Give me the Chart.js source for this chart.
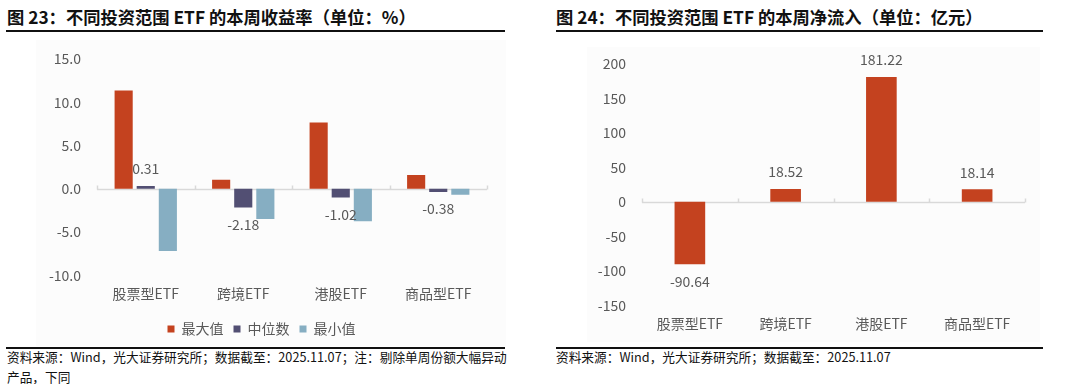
<!DOCTYPE html>
<html>
<head>
<meta charset="utf-8">
<script src="https://cdn.jsdelivr.net/npm/chart.js@4.4.1/dist/chart.umd.min.js"></script>
<style>
  body { margin: 0; width: 1080px; height: 384px; background: #fff; position: relative; overflow: hidden;
         font-family: "Noto Sans CJK SC", "Noto Sans", sans-serif; }
  .title { position: absolute; top: 4px; font-size: 17.3px; font-weight: bold; color: #111; white-space: nowrap; }
  .rule { position: absolute; height: 2px; background: #111; }
  .box { position: absolute; background: #fcfcfc; }
  .box canvas { display: block; }
  .src { position: absolute; font-size: 12.7px; color: #111; line-height: 20px; white-space: nowrap; }
</style>
</head>
<body>
<div class="title" style="left:7px">图 23：不同投资范围 ETF 的本周收益率（单位：%）</div>
<div class="rule" style="left:6px;top:30px;width:499px"></div>
<div class="box" style="left:36px;top:40px;width:470px;height:306px"><canvas id="retChart" width="470" height="306"></canvas></div>
<div class="rule" style="left:6px;top:347px;width:499px"></div>
<div class="src" style="left:7px;top:347px">资料来源：Wind，光大证券研究所；数据截至：2025.11.07；注：剔除单周份额大幅异动<br>产品，下同</div>

<div class="title" style="left:556px">图 24：不同投资范围 ETF 的本周净流入（单位：亿元）</div>
<div class="rule" style="left:556px;top:30px;width:487px"></div>
<div class="box" style="left:587px;top:47px;width:453px;height:295px"><canvas id="flowChart" width="453" height="295"></canvas></div>
<div class="rule" style="left:556px;top:347px;width:487px"></div>
<div class="src" style="left:556px;top:347px">资料来源：Wind，光大证券研究所；数据截至：2025.11.07</div>

<script>
const categories = ["股票型ETF", "跨境ETF", "港股ETF", "商品型ETF"];
const retMax = [11.35, 1.05, 7.65, 1.6];
const retMedian = [0.31, -2.18, -1.02, -0.38];
const retMin = [-7.2, -3.5, -3.75, -0.7];
const retAxis = { min: -10, max: 15, step: 5 };
const netInflow = [-90.64, 18.52, 181.22, 18.14];
const flowAxis = { min: -150, max: 200, step: 50 };

const FONT = "'Noto Sans CJK SC', 'Noto Sans', sans-serif";
const GRAY = "#595959";

// zero line plus little category ticks on it
const zeroAxis = {
  id: "zeroAxis",
  beforeDatasetsDraw(chart) {
    const { ctx, chartArea, scales } = chart;
    const y = Math.round(scales.y.getPixelForValue(0)) + 0.5;
    const n = chart.data.labels.length;
    const w = (chartArea.right - chartArea.left) / n;
    ctx.save();
    ctx.strokeStyle = "#d9d9d9";
    ctx.lineWidth = 1.5;
    ctx.beginPath();
    ctx.moveTo(chartArea.left, y);
    ctx.lineTo(chartArea.right, y);
    for (let i = 0; i <= n; i++) {
      const x = Math.round(chartArea.left + i * w) + 0.5;
      ctx.moveTo(x, y);
      ctx.lineTo(x, y - 4);
    }
    ctx.stroke();
    ctx.restore();
  }
};

// value labels for datasets flagged with showValues
const valueLabels = {
  id: "valueLabels",
  afterDatasetsDraw(chart) {
    const ctx = chart.ctx;
    ctx.save();
    ctx.font = "14px " + FONT;
    ctx.fillStyle = GRAY;
    ctx.textAlign = "center";
    ctx.textBaseline = "middle";
    chart.data.datasets.forEach((ds, di) => {
      if (!ds.showValues) return;
      chart.getDatasetMeta(di).data.forEach((bar, i) => {
        const v = ds.data[i];
        const y = v >= 0 ? bar.y - 17 : bar.y + 17;
        ctx.fillText(v.toFixed(2), bar.x, y);
      });
    });
    ctx.restore();
  }
};

function yScale(axis, width, top, digits) {
  return {
    min: axis.min, max: axis.max,
    grid: { display: false, drawTicks: false },
    border: { display: false },
    ticks: {
      stepSize: axis.step, padding: 16, color: GRAY,
      font: { family: FONT, size: 14 },
      callback: v => v.toFixed(digits)
    },
    afterFit(scale) {
      scale.width = width;
      scale.paddingTop = top;
    }
  };
}

function xScale() {
  return {
    grid: { display: false, drawTicks: false },
    border: { display: false },
    ticks: { color: GRAY, padding: 10, font: { family: FONT, size: 14 }, maxRotation: 0, autoSkip: false }
  };
}

Chart.defaults.animation = false;

new Chart(document.getElementById("retChart"), {
  type: "bar",
  data: {
    labels: categories,
    datasets: [
      { label: "最大值", data: retMax, backgroundColor: "#C4421F" },
      { label: "中位数", data: retMedian, backgroundColor: "#524F73", showValues: true },
      { label: "最小值", data: retMin, backgroundColor: "#86AEC2" }
    ]
  },
  options: {
    responsive: false,
    maintainAspectRatio: false,
    categoryPercentage: 0.68,
    barPercentage: 0.82,
    layout: { padding: { top: 0, right: 19, bottom: 0, left: 0 } },
    scales: { x: xScale(), y: yScale(retAxis, 61, 19, 1) },
    plugins: {
      tooltip: { enabled: false },
      legend: {
        position: "bottom",
        labels: {
          boxWidth: 7, boxHeight: 7, padding: 10, color: GRAY,
          font: { family: FONT, size: 14 }
        }
      }
    }
  },
  plugins: [zeroAxis, valueLabels]
});

new Chart(document.getElementById("flowChart"), {
  type: "bar",
  data: {
    labels: categories,
    datasets: [
      { label: "净流入", data: netInflow, backgroundColor: "#C4421F", showValues: true }
    ]
  },
  options: {
    responsive: false,
    maintainAspectRatio: false,
    categoryPercentage: 1,
    barPercentage: 0.32,
    layout: { padding: { top: 0, right: 15, bottom: 0, left: 0 } },
    scales: { x: xScale(), y: yScale(flowAxis, 55, 17, 0) },
    plugins: { tooltip: { enabled: false }, legend: { display: false } }
  },
  plugins: [zeroAxis, valueLabels]
});
</script>
</body>
</html>
